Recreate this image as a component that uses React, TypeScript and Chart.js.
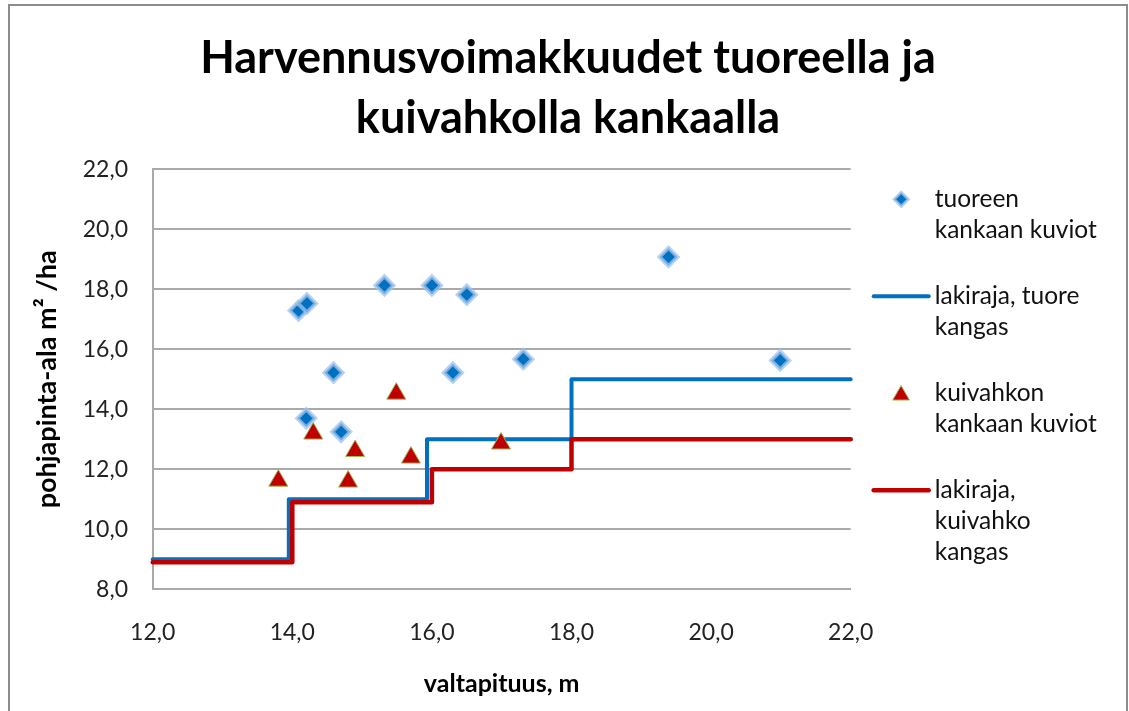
import React, { useEffect, useRef } from 'react';
import { Chart, registerables } from 'chart.js';

Chart.register(...registerables);

const chartTitle = ['Harvennusvoimakkuudet tuoreella ja', 'kuivahkolla kankaalla'];
const xAxisTitle = 'valtapituus, m';
const yAxisTitle = 'pohjapinta-ala m² /ha';

const xTickValues = [12, 14, 16, 18, 20, 22];
const yTickValues = [8, 10, 12, 14, 16, 18, 20, 22];

const freshX = [14.09, 14.21, 15.32, 16.0, 16.5, 14.59, 16.3, 17.31, 14.2, 14.7, 19.39, 20.99];
const freshY = [17.29, 17.53, 18.13, 18.13, 17.82, 15.22, 15.22, 15.67, 13.7, 13.25, 19.08, 15.63];

const dryX = [13.8, 14.3, 15.49, 14.9, 14.8, 15.7, 16.99];
const dryY = [11.62, 13.19, 14.52, 12.61, 11.59, 12.39, 12.86];

const freshLimitX = [12, 13.95, 15.93, 18, 22];
const freshLimitY = [9, 11, 13, 15, 15];

const dryLimitX = [12, 14, 16, 18, 22];
const dryLimitY = [8.9, 10.9, 12, 13, 13];

const seriesLabels = [
  'tuoreen kankaan kuviot',
  'lakiraja, tuore kangas',
  'kuivahkon kankaan kuviot',
  'lakiraja, kuivahko kangas',
];
const legendLines = [
  ['tuoreen', 'kankaan kuviot'],
  ['lakiraja, tuore', 'kangas'],
  ['kuivahkon', 'kankaan kuviot'],
  ['lakiraja,', 'kuivahko', 'kangas'],
];

const BLUE = '#0070C0';
const RED = '#C00000';
const GRID = '#a9a9a9';
const FONT = 'Lato';

const toPoints = (xs: number[], ys: number[]) => xs.map((x, i) => ({ x, y: ys[i] }));
const fmt = (v: number) => Number(v).toFixed(1).replace('.', ',');

const sideLegend = {
  id: 'sideLegend',
  afterDraw(chart: any) {
    const { ctx, chartArea } = chart;
    const x0 = chartArea.right + 23;
    const lineLen = 55;
    const textX = x0 + 61;
    const lh = 31;
    let y = chartArea.top + 30;
    ctx.save();
    ctx.font = `24.5px ${FONT}`;
    ctx.textBaseline = 'middle';
    ctx.textAlign = 'left';
    chart.data.datasets.forEach((ds: any, i: number) => {
      const lines = legendLines[i];
      const cx = x0 + lineLen / 2;
      if (ds.showLine) {
        ctx.beginPath();
        ctx.strokeStyle = ds.borderColor;
        ctx.lineWidth = ds.borderWidth;
        ctx.lineCap = 'round';
        ctx.moveTo(x0, y);
        ctx.lineTo(x0 + lineLen, y);
        ctx.stroke();
      } else if (ds.pointStyle === 'rectRot') {
        const r = 7;
        ctx.beginPath();
        ctx.moveTo(cx - r, y);
        ctx.lineTo(cx, y - r);
        ctx.lineTo(cx + r, y);
        ctx.lineTo(cx, y + r);
        ctx.closePath();
        ctx.fillStyle = ds.backgroundColor;
        ctx.fill();
        ctx.strokeStyle = ds.borderColor;
        ctx.lineWidth = 3;
        ctx.stroke();
      } else {
        const r = 9.5;
        ctx.beginPath();
        const a0 = -Math.PI / 2;
        for (let k = 0; k < 3; k++) {
          const a = a0 + (k * 2 * Math.PI) / 3;
          const px = cx + Math.cos(a) * r;
          const py = y + 2 + Math.sin(a) * r;
          if (k === 0) ctx.moveTo(px, py);
          else ctx.lineTo(px, py);
        }
        ctx.closePath();
        ctx.fillStyle = ds.backgroundColor;
        ctx.fill();
        ctx.strokeStyle = ds.borderColor;
        ctx.lineWidth = 1;
        ctx.stroke();
      }
      ctx.fillStyle = '#111';
      lines.forEach((t: string, j: number) => ctx.fillText(t, textX, y + j * lh));
      y += lines.length * lh + 35;
    });
    ctx.restore();
  },
};

export default function App() {
  const ref = useRef<HTMLCanvasElement | null>(null);

  useEffect(() => {
    if (!ref.current) return;
    const chart = new Chart(ref.current, {
      type: 'scatter',
      data: {
        datasets: [
          {
            label: seriesLabels[0],
            data: toPoints(freshX, freshY),
            pointStyle: 'rectRot',
            pointRadius: 9,
            backgroundColor: BLUE,
            borderColor: 'rgba(160,195,235,0.75)',
            borderWidth: 4,
            showLine: false,
            order: 1,
          },
          {
            label: seriesLabels[1],
            data: toPoints(freshLimitX, freshLimitY),
            showLine: true,
            stepped: 'before',
            pointRadius: 0,
            borderColor: BLUE,
            backgroundColor: BLUE,
            borderWidth: 4,
            borderJoinStyle: 'round',
            borderCapStyle: 'round',
            clip: 6,
            order: 3,
          },
          {
            label: seriesLabels[2],
            data: toPoints(dryX, dryY),
            pointStyle: 'triangle',
            pointRadius: 11,
            backgroundColor: RED,
            borderColor: '#9BBB59',
            borderWidth: 1,
            showLine: false,
            order: 0,
          },
          {
            label: seriesLabels[3],
            data: toPoints(dryLimitX, dryLimitY),
            showLine: true,
            stepped: 'before',
            pointRadius: 0,
            borderColor: RED,
            backgroundColor: RED,
            borderWidth: 4.5,
            borderJoinStyle: 'round',
            borderCapStyle: 'round',
            clip: 6,
            order: 2,
          },
        ],
      },
      options: {
        responsive: false,
        animation: false,
        events: [],
        layout: { padding: 0 },
        plugins: {
          legend: { display: false },
          tooltip: { enabled: false },
          title: {
            display: true,
            text: chartTitle,
            color: '#000',
            font: { family: FONT, size: 45, weight: 'bold', lineHeight: 60 / 45 },
            padding: { top: 22, bottom: 21.3 },
          },
        },
        scales: {
          x: {
            type: 'linear',
            position: 'bottom',
            min: 12,
            max: 22,
            afterBuildTicks: (s: any) => {
              s.ticks = xTickValues.map((v) => ({ value: v }));
            },
            afterFit: (s: any) => {
              s.height = 121.7;
            },
            grid: { display: false, drawTicks: false },
            border: { display: true, color: GRID, width: 2 },
            ticks: {
              font: { family: FONT, size: 23 },
              color: '#222',
              padding: 29,
              callback: (v: any) => fmt(v),
            },
            title: {
              display: true,
              text: xAxisTitle,
              color: '#000',
              font: { family: FONT, size: 25, weight: 'bold', lineHeight: 1.2 },
              padding: { top: 0, bottom: 12.4 },
            },
          },
          y: {
            type: 'linear',
            position: 'left',
            min: 8,
            max: 22,
            afterBuildTicks: (s: any) => {
              s.ticks = yTickValues.map((v) => ({ value: v }));
            },
            afterFit: (s: any) => {
              s.width = 142.7;
            },
            grid: { color: GRID, lineWidth: 2, drawTicks: false },
            border: { display: true, color: GRID, width: 2 },
            ticks: {
              font: { family: FONT, size: 23 },
              color: '#222',
              padding: 24.7,
              callback: (v: any) => fmt(v),
            },
            title: {
              display: true,
              text: yAxisTitle,
              color: '#000',
              font: { family: FONT, size: 27, weight: 'bold', lineHeight: 1.2 },
              padding: { top: 20.8, bottom: 0 },
            },
          },
          legendSpace: {
            type: 'linear',
            position: 'right',
            display: true,
            afterFit: (s: any) => {
              s.width = 275.3;
            },
            grid: { display: false, drawTicks: false },
            border: { display: false },
            ticks: { display: false },
          },
        },
      },
      plugins: [sideLegend],
    } as any);
    return () => chart.destroy();
  }, []);

  return (
    <div
      style={{
        position: 'absolute',
        left: 8,
        top: 4,
        width: 1116,
        height: 705,
        borderTop: '2px solid #8c8c8c',
        borderLeft: '2px solid #8c8c8c',
        borderRight: '2px solid #8c8c8c',
        background: '#fff',
      }}
    >
      <canvas ref={ref} width={1116} height={705} style={{ display: 'block' }} />
    </div>
  );
}
